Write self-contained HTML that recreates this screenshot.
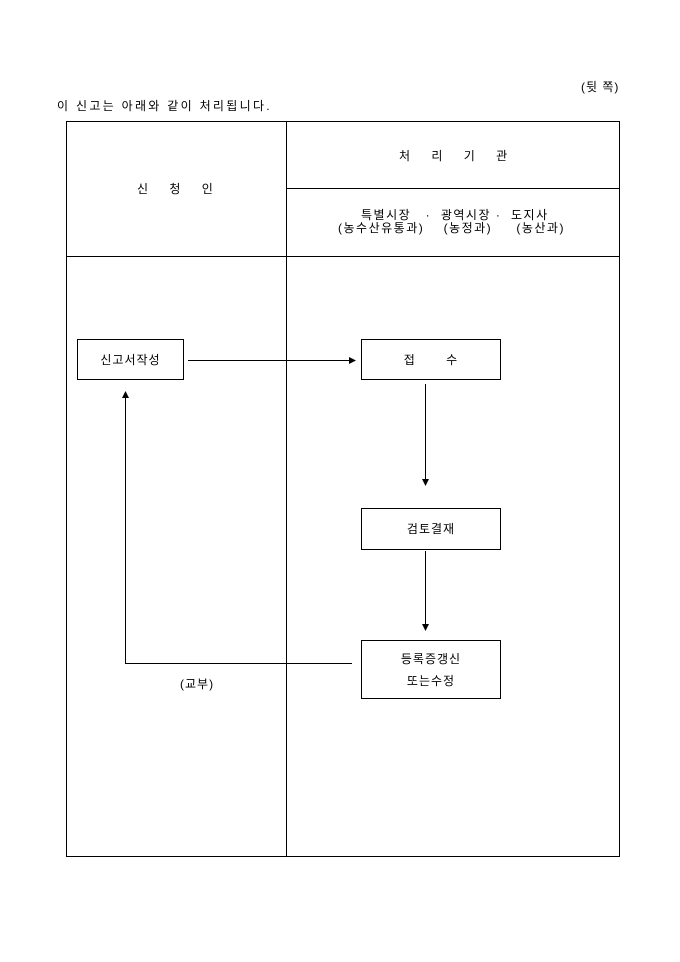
<!DOCTYPE html>
<html><head><meta charset="utf-8"><style>
body{margin:0;background:#fff;width:680px;height:962px;position:relative;font-family:"Liberation Sans","Noto Sans CJK KR",sans-serif;font-size:12px;color:#000}
.t{position:absolute;white-space:nowrap;line-height:14px}
.b{position:absolute;border:1px solid #000;box-sizing:border-box;display:flex;align-items:center;justify-content:center;text-align:center;line-height:22px;letter-spacing:1px}
</style></head><body>
<div class="t" style="left:581px;top:80px;letter-spacing:1px">(뒷 쪽)</div>
<div class="t" style="left:57px;top:99px;letter-spacing:2.3px">이 신고는 아래와 같이 처리됩니다.</div>
<svg style="position:absolute;left:0;top:0" width="680" height="962">
<g stroke="#000" stroke-width="1" fill="none">
<rect x="66.5" y="121.5" width="553" height="735"/>
<line x1="286.5" y1="121" x2="286.5" y2="857"/>
<line x1="286" y1="188.5" x2="620" y2="188.5"/>
<line x1="66" y1="256.5" x2="620" y2="256.5"/>
<line x1="188" y1="360.5" x2="350" y2="360.5"/>
<line x1="425.5" y1="384" x2="425.5" y2="480"/>
<line x1="425.5" y1="551" x2="425.5" y2="625"/>
<polyline points="352,663.5 125.5,663.5 125.5,398"/>
</g>
<g fill="#000">
<polygon points="356,360.5 349,357 349,364"/>
<polygon points="425.5,486 422,479 429,479"/>
<polygon points="425.5,631 422,624 429,624"/>
<polygon points="125.5,391 122,398 129,398"/>
</g>
</svg>
<div class="t" style="left:137px;top:182px;word-spacing:18px">신 청 인</div>
<div class="t" style="left:399px;top:149px;word-spacing:18px">처 리 기 관</div>
<div class="t" style="left:361px;top:208px;letter-spacing:1.5px">특별시장 &nbsp;&nbsp;· &nbsp;광역시장 · &nbsp;도지사</div>
<div class="t" style="left:338px;top:221px;letter-spacing:1.5px">(농수산유통과) &nbsp;&nbsp;&nbsp;(농정과) &nbsp;&nbsp;&nbsp;&nbsp;(농산과)</div>
<div class="b" style="left:77px;top:339px;width:107px;height:41px">신고서작성</div>
<div class="b" style="left:361px;top:339px;width:140px;height:41px;word-spacing:26px">접 수</div>
<div class="b" style="left:361px;top:508px;width:140px;height:42px">검토결재</div>
<div class="b" style="left:361px;top:640px;width:140px;height:59px">등록증갱신<br>또는수정</div>
<div class="t" style="left:180px;top:677px;letter-spacing:1px">(교부)</div>
</body></html>
